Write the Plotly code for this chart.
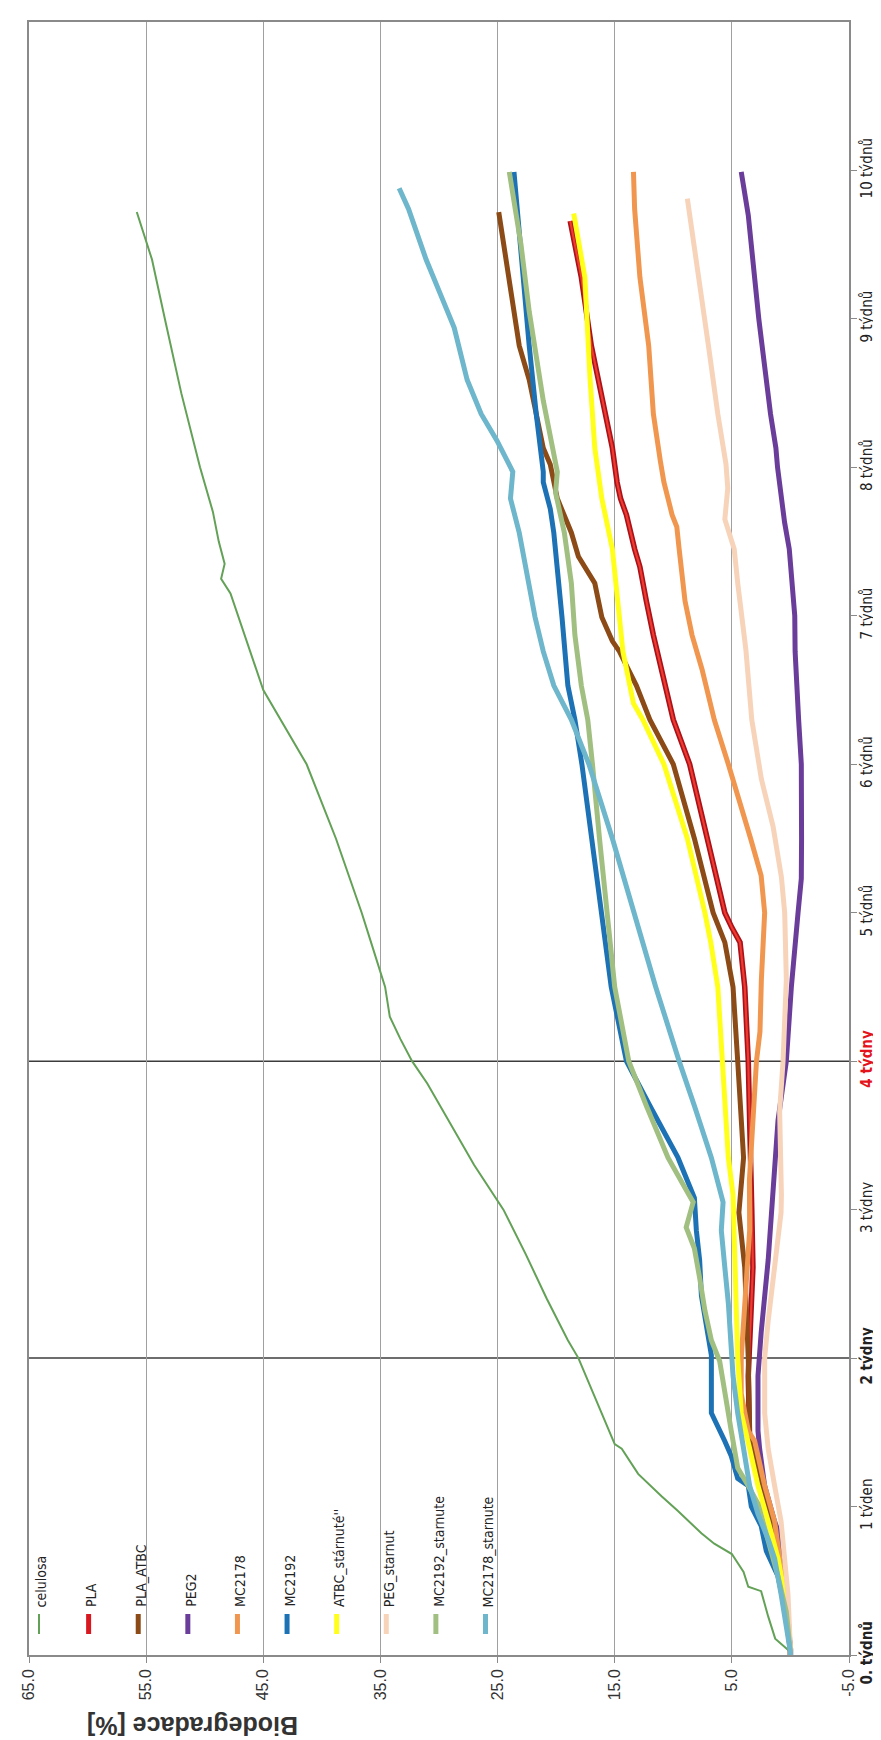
import plotly.graph_objects as go

# ---------------- data (time in weeks, biodegradation in %) ----------------
celulosa_t = [0.0, 0.02, 0.11, 0.26, 0.43, 0.46, 0.56, 0.68, 0.75, 0.82, 0.97, 1.07, 1.22, 1.39, 1.42, 1.63, 1.85, 2.0, 2.12, 2.4, 2.7, 3.0, 3.3, 3.6, 3.85, 4.0, 4.15, 4.3, 4.5, 4.8, 5.0, 5.5, 6.0, 6.5, 7.0, 7.15, 7.25, 7.35, 7.5, 7.7, 8.0, 8.5, 9.0, 9.4, 9.72]
celulosa_v = [0.0, 0.0, 1.3, 1.9, 2.5, 3.6, 4.0, 5.0, 6.5, 7.6, 9.6, 11.0, 13.0, 14.4, 15.0, 16.1, 17.3, 18.1, 19.0, 20.8, 22.6, 24.5, 27.0, 29.2, 31.0, 32.3, 33.3, 34.2, 34.6, 35.8, 36.6, 38.8, 41.3, 45.0, 47.2, 47.8, 48.6, 48.3, 48.8, 49.3, 50.4, 52.0, 53.4, 54.5, 55.8]

pla_t = [0.0, 0.04, 0.53, 0.9, 1.14, 1.44, 1.88, 2.12, 2.61, 3.0, 3.35, 4.0, 4.5, 4.8, 4.9, 5.0, 5.5, 6.0, 6.3, 6.76, 6.87, 7.1, 7.33, 7.45, 7.68, 7.79, 7.9, 8.13, 8.48, 8.82, 9.28, 9.66]
pla_v = [0.0, 0.0, 0.8, 1.63, 2.5, 3.48, 3.6, 3.48, 3.2, 3.3, 3.4, 3.6, 3.9, 4.3, 5.0, 5.6, 7.1, 8.6, 10.0, 11.4, 11.7, 12.3, 12.85, 13.3, 14.0, 14.5, 14.8, 15.2, 16.1, 17.0, 17.85, 18.8]

pla_atbc_t = [0.0, 0.04, 0.53, 0.9, 1.14, 1.44, 2.0, 2.61, 2.98, 3.35, 4.0, 4.5, 4.8, 5.0, 5.5, 6.0, 6.3, 6.53, 6.76, 6.83, 6.99, 7.22, 7.4, 7.56, 7.79, 8.02, 8.13, 8.59, 8.82, 9.28, 9.72]
pla_atbc_v = [0.0, 0.0, 0.64, 1.63, 2.5, 3.48, 3.6, 3.9, 4.4, 4.0, 4.5, 4.9, 5.6, 6.6, 8.2, 10.0, 12.0, 13.15, 14.6, 15.2, 16.1, 16.7, 18.1, 18.7, 19.9, 20.5, 21.1, 22.3, 23.15, 24.0, 24.9]

peg2_t = [0.0, 0.04, 0.41, 0.78, 0.9, 1.14, 1.39, 1.51, 1.88, 2.17, 2.66, 3.0, 3.3, 3.6, 4.0, 4.5, 5.0, 5.23, 5.5, 6.0, 6.3, 6.76, 7.0, 7.22, 7.45, 7.63, 7.79, 7.9, 8.0, 8.13, 8.36, 9.0, 9.7, 9.99]
peg2_v = [0.0, 0.0, 0.35, 0.8, 1.35, 2.2, 2.63, 2.77, 2.77, 2.5, 1.9, 1.6, 1.3, 1.06, 0.35, -0.08, -0.65, -0.93, -0.95, -0.93, -0.7, -0.4, -0.37, -0.1, 0.1, 0.5, 0.8, 0.9, 1.1, 1.24, 1.7, 2.7, 3.6, 4.2]

mc2178_t = [0.0, 0.04, 0.41, 0.9, 1.14, 1.44, 1.51, 1.76, 2.0, 2.37, 2.86, 3.2, 3.66, 4.0, 4.2, 4.55, 5.0, 5.25, 5.5, 5.8, 6.0, 6.3, 6.64, 6.87, 7.1, 7.45, 7.6, 7.68, 7.9, 8.04, 8.36, 8.82, 9.28, 9.74, 9.99]
mc2178_v = [0.0, 0.0, 0.5, 1.35, 2.2, 3.05, 3.6, 4.2, 4.2, 3.9, 3.48, 3.5, 3.2, 2.9, 2.6, 2.48, 2.2, 2.5, 3.4, 4.5, 5.3, 6.5, 7.55, 8.4, 9.0, 9.5, 9.7, 10.1, 10.8, 11.1, 11.7, 12.1, 12.85, 13.3, 13.4]

mc2192_t = [0.0, 0.02, 0.21, 0.53, 0.7, 0.87, 1.0, 1.14, 1.19, 1.34, 1.44, 1.63, 2.02, 2.25, 2.42, 2.66, 2.86, 3.08, 3.35, 3.7, 4.0, 4.5, 5.0, 5.5, 6.0, 6.3, 6.53, 6.99, 7.33, 7.45, 7.56, 7.72, 7.9, 7.97, 8.36, 8.82, 9.3, 9.99]
mc2192_v = [0.0, 0.0, 0.21, 1.06, 2.06, 2.5, 3.34, 3.6, 4.5, 5.05, 5.6, 6.75, 6.75, 7.2, 7.6, 7.75, 8.03, 8.2, 9.6, 12.0, 14.0, 15.3, 16.1, 16.9, 17.8, 18.4, 19.0, 19.5, 19.9, 20.05, 20.2, 20.5, 21.1, 21.1, 21.7, 22.3, 22.8, 23.6]

atbc_st_t = [0.0, 0.04, 0.41, 0.65, 0.9, 1.14, 1.39, 1.63, 2.0, 2.37, 2.86, 3.1, 3.35, 4.0, 4.5, 4.8, 5.0, 5.5, 6.0, 6.3, 6.41, 6.76, 7.22, 7.45, 7.79, 8.13, 8.59, 9.28, 9.71]
atbc_st_v = [0.0, 0.0, 0.5, 1.06, 1.9, 2.77, 3.48, 4.2, 4.5, 4.6, 4.76, 4.9, 5.3, 5.8, 6.2, 6.8, 7.3, 8.8, 10.8, 12.6, 13.4, 14.3, 14.9, 15.2, 16.1, 16.7, 17.1, 17.55, 18.5]

peg_st_t = [0.0, 0.04, 0.41, 0.9, 1.14, 1.39, 1.63, 2.0, 2.25, 2.61, 2.98, 3.1, 3.66, 4.0, 4.55, 5.0, 5.24, 5.58, 5.9, 6.3, 6.77, 7.22, 7.45, 7.65, 7.86, 8.02, 8.36, 8.82, 9.28, 9.81]
peg_st_v = [0.0, 0.0, 0.21, 0.8, 1.35, 1.9, 2.2, 2.2, 1.9, 1.35, 0.8, 0.77, 0.92, 0.63, 0.35, 0.49, 0.77, 1.48, 2.48, 3.3, 3.8, 4.5, 4.8, 5.6, 5.35, 5.5, 6.2, 7.0, 7.85, 8.8]

mc2192_st_t = [0.0, 0.02, 0.29, 0.53, 0.77, 1.02, 1.14, 1.26, 1.51, 1.75, 1.98, 2.12, 2.32, 2.54, 2.74, 2.88, 3.05, 3.15, 3.35, 3.7, 4.0, 4.5, 5.0, 5.5, 6.0, 6.3, 6.53, 6.87, 7.22, 7.56, 7.83, 7.97, 8.45, 9.05, 9.5, 9.99]
mc2192_st_v = [0.0, 0.0, 0.35, 1.06, 1.9, 2.77, 3.6, 4.5, 5.05, 5.6, 6.04, 6.75, 7.3, 7.75, 8.2, 8.9, 8.3, 9.03, 10.45, 12.3, 13.8, 15.0, 15.7, 16.3, 16.9, 17.3, 17.85, 18.4, 18.7, 19.3, 20.05, 19.9, 21.1, 22.3, 23.0, 24.0]

mc2178_st_t = [0.0, 0.02, 0.41, 0.65, 0.78, 0.95, 1.14, 1.39, 1.63, 1.88, 2.12, 2.37, 2.61, 2.86, 3.05, 3.35, 3.7, 4.0, 4.5, 5.0, 5.5, 6.0, 6.3, 6.53, 6.76, 6.99, 7.33, 7.56, 7.79, 7.97, 8.18, 8.36, 8.59, 8.94, 9.17, 9.4, 9.74, 9.88]
mc2178_st_v = [0.0, 0.0, 0.8, 1.35, 1.9, 2.77, 3.48, 4.05, 4.5, 4.9, 5.05, 5.3, 5.6, 5.9, 5.75, 6.75, 8.2, 9.5, 11.5, 13.3, 15.2, 17.2, 18.7, 20.2, 21.1, 21.8, 22.6, 23.15, 23.9, 23.7, 25.05, 26.4, 27.6, 28.7, 29.9, 31.1, 32.6, 33.4]

series_names = ["celulosa", "PLA", "PLA_ATBC", "PEG2", "MC2178", "MC2192",
                "ATBC_stárnuté''", "PEG_starnut", "MC2192_starnute", "MC2178_starnute"]

bio_ticks = [65, 55, 45, 35, 25, 15, 5, -5]
bio_ticktext = ["65.0", "55.0", "45.0", "35.0", "25.0", "15.0", "5.0", "-5.0"]
week_ticks = [0, 1, 2, 3, 4, 5, 6, 7, 8, 9, 10]
week_ticktext = ["<b>0. týdnů</b>", "1 týden", "<b>2 týdny</b>", "3 týdny",
                 "<b><span style='color:#e3141b'>4 týdny</span></b>", "5 týdnů", "6 týdnů",
                 "7 týdnů", "8 týdnů", "9 týdnů", "10 týdnů"]
marker_weeks = [2, 4]

# ---------------- styling ----------------
colors = ["#63a157", "#d8181e", "#8b4a16", "#6a3d9a", "#f0964f", "#1c72b5",
          "#ffff1a", "#f7d3ba", "#a0bf80", "#6db6cb"]
widths = [2, 5, 5, 5, 5, 5, 5, 5, 5, 5]
data_t = [celulosa_t, pla_t, pla_atbc_t, peg2_t, mc2178_t, mc2192_t,
          atbc_st_t, peg_st_t, mc2192_st_t, mc2178_st_t]
data_v = [celulosa_v, pla_v, pla_atbc_v, peg2_v, mc2178_v, mc2192_v,
          atbc_st_v, peg_st_v, mc2192_st_v, mc2178_st_v]

NARROW = "Liberation Sans Narrow, DejaVu Sans Condensed, Arial Narrow, sans-serif"
SANS = "Liberation Sans, Arial, sans-serif"

fig = go.Figure()
for i, name in enumerate(series_names):
    if name == "PLA":
        fig.add_trace(go.Scatter(x=data_v[i], y=data_t[i], mode="lines",
                                 line=dict(color="#a8121a", width=5.5), showlegend=False,
                                 hoverinfo="skip"))
        fig.add_trace(go.Scatter(x=data_v[i], y=data_t[i], mode="lines", name=name,
                                 line=dict(color="#f03a30", width=2.2), showlegend=False))
    else:
        fig.add_trace(go.Scatter(x=data_v[i], y=data_t[i], mode="lines", name=name,
                                 line=dict(color=colors[i], width=widths[i]),
                                 showlegend=False))

# plot area geometry (pixels)
W, H = 881, 1740
L, R, T, B = 21, 40, 14, 93
plot_h = H - T - B

shapes = []
for wk in marker_weeks:
    shapes.append(dict(type="line", xref="paper", yref="y", x0=0, x1=1, y0=wk, y1=wk,
                       line=dict(color="#3c3c3c", width=1.5), layer="below"))

annotations = []
leg_x0, leg_dx = 0.0122, 0.0605
def py(pix):
    return (H - B - pix) / plot_h
for i, name in enumerate(series_names):
    px = leg_x0 + i * leg_dx
    shapes.append(dict(type="line", xref="paper", yref="paper", x0=px, x1=px,
                       y0=py(1626), y1=py(1606),
                       line=dict(color=colors[i], width=2 if i == 0 else 5)))
    annotations.append(dict(text=name, xref="paper", yref="paper", x=px + 0.003, y=py(1601),
                            xanchor="center", yanchor="bottom", textangle=-90, showarrow=False,
                            font=dict(family=NARROW, size=14, color="#222")))

annotations.append(dict(text="<b>Biodegradace [%]</b>", xref="paper", yref="paper",
                        x=0.2, y=py(1718), xanchor="center", yanchor="middle",
                        textangle=180, showarrow=False,
                        font=dict(family=SANS, size=25, color="#333")))

fig.update_layout(
    width=W, height=H,
    margin=dict(l=L, r=R, t=T, b=B, pad=0),
    paper_bgcolor="white", plot_bgcolor="white",
    showlegend=False,
    shapes=shapes, annotations=annotations,
    xaxis=dict(range=[65, -5], tickmode="array", tickvals=bio_ticks, ticktext=bio_ticktext,
               tickangle=-90, showgrid=True, gridcolor="#a0a0a0", gridwidth=1,
               zeroline=False, showline=True, linecolor="#8a8a8a", linewidth=1.5, mirror=True,
               ticks="outside", ticklen=6, tickcolor="#8a8a8a",
               tickfont=dict(family=SANS, size=16, color="#333")),
    yaxis=dict(range=[0, 11], side="right", tickmode="array", tickvals=week_ticks,
               ticktext=week_ticktext, tickangle=-90, showgrid=False, zeroline=False,
               showline=True, linecolor="#8a8a8a", linewidth=1.5, mirror=True,
               ticks="outside", ticklen=6, tickcolor="#8a8a8a", ticklabelstandoff=-3,
               tickfont=dict(family=NARROW, size=15, color="#222")),
)

fig.write_html("out.html")
